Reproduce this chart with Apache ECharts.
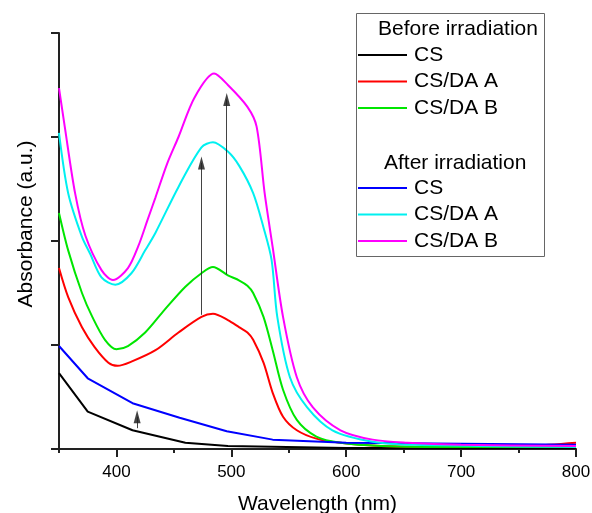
<!DOCTYPE html>
<html>
<head>
<meta charset="utf-8">
<script src="https://cdn.jsdelivr.net/npm/echarts@6/dist/echarts.min.js"></script>
<style>
  html, body { margin: 0; padding: 0; background: #fff; }
  #main { width: 592px; height: 513px; }
</style>
</head>
<body>
<div id="main"></div>
<script>
// UV-vis spectra: [wavelength (nm), absorbance (a.u.)]
var csBefore = [[350,0.73],[375,0.36],[414,0.18],[460,0.06],[497,0.03],[600,0.01],[800,0.01]];
var daABefore = [[350,1.74],[358,1.46],[370,1.17],[381,0.98],[393,0.83],[401,0.80],[413,0.84],[434,0.95],[454,1.12],[474,1.27],[484,1.30],[497,1.24],[507,1.17],[514,1.12],[519,1.05],[528,0.83],[536,0.54],[545,0.31],[557,0.18],[574,0.10],[595,0.06],[630,0.03],[700,0.02],[760,0.03],[800,0.06]];
var daBBefore = [[350,2.27],[358,1.91],[370,1.50],[379,1.27],[390,1.05],[400,0.96],[410,0.99],[425,1.12],[442,1.34],[460,1.56],[474,1.69],[484,1.75],[497,1.67],[507,1.62],[514,1.57],[519,1.50],[528,1.27],[536,0.95],[545,0.57],[557,0.28],[574,0.12],[595,0.06],[630,0.03],[700,0.02],[800,0.02]];
var csAfter = [[350,0.99],[375,0.68],[414,0.44],[455,0.30],[496,0.17],[536,0.09],[600,0.06],[700,0.05],[800,0.04]];
var daAAfter = [[350,3.04],[358,2.46],[370,2.04],[377,1.88],[387,1.65],[399,1.58],[413,1.69],[425,1.91],[434,2.08],[454,2.52],[474,2.90],[484,2.95],[497,2.86],[507,2.72],[519,2.46],[528,2.13],[535,1.82],[540,1.27],[551,0.69],[566,0.40],[588,0.18],[623,0.07],[660,0.04],[800,0.02]];
var daBAfter = [[350,3.47],[355,3.10],[364,2.46],[373,2.05],[387,1.72],[397,1.625],[410,1.74],[419,1.95],[427,2.20],[434,2.42],[444,2.74],[454,3.00],[468,3.38],[485,3.61],[497,3.50],[514,3.29],[522,3.10],[529,2.46],[536,1.94],[545,1.27],[557,0.69],[571,0.40],[595,0.18],[623,0.09],[653,0.06],[700,0.04],[800,0.03]];

// arrows: [wavelength, from, to]
var arrows = [[418, 0.20, 0.31], [474, 1.29, 2.75], [496, 1.68, 3.36]];

var xLabels = [400, 500, 600, 700, 800];
var xMinorTicks = [350, 450, 550, 650, 750];

var namesBefore = ['CS', 'CS/DA A', 'CS/DA B'];
// trailing space keeps legend names distinct from the "before" set
var namesAfter = ['CS ', 'CS/DA A ', 'CS/DA B '];

var FONT = '"Liberation Sans", Arial, sans-serif';

var chart = echarts.init(document.getElementById('main'));

function curve(name, data, color, smooth) {
  return {
    type: 'line',
    name: name,
    data: data,
    symbol: 'none',
    smooth: smooth ? 0.3 : false,
    lineStyle: { color: color, width: 2 },
    itemStyle: { color: color },
    animation: false,
    silent: true
  };
}

var arrowData = arrows.map(function (a) {
  return [
    { coord: [a[0], a[1]], symbol: 'none' },
    { coord: [a[0], a[2]], symbol: 'triangle', symbolSize: [7, 13] }
  ];
});

var seriesList = [
  curve(namesBefore[0], csBefore, '#000000', false),
  curve(namesBefore[1], daABefore, '#ff0000', true),
  curve(namesBefore[2], daBBefore, '#00e600', true),
  curve(namesAfter[0], csAfter, '#0000ff', false),
  curve(namesAfter[1], daAAfter, '#00f0f0', true),
  curve(namesAfter[2], daBAfter, '#ff00ff', true)
];
seriesList[5].markLine = {
  silent: true,
  animation: false,
  symbol: ['none', 'triangle'],
  label: { show: false },
  lineStyle: { color: '#222', width: 1, type: 'solid', opacity: 0.85 },
  emphasis: { disabled: true },
  data: arrowData
};

function legendBlock(names, top) {
  return {
    data: names,
    orient: 'vertical',
    left: 358,
    top: top,
    padding: 0,
    icon: 'rect',
    itemWidth: 49,
    itemHeight: 2,
    itemGap: 5.5,
    selectedMode: false,
    textStyle: { fontSize: 21, lineHeight: 21, color: '#000', fontFamily: FONT, padding: [0, 0, 0, 2] }
  };
}

var option = {
  backgroundColor: '#fff',
  animation: false,
  textStyle: { fontFamily: FONT },
  grid: { left: 59, right: 16, top: 33, bottom: 64, outerBoundsMode: 'none' },
  legend: [legendBlock(namesBefore, 44.5), legendBlock(namesAfter, 177.5)],
  xAxis: [
    {
      type: 'value',
      min: 350,
      max: 800,
      name: 'Wavelength (nm)',
      nameLocation: 'middle',
      nameGap: 45,
      nameTextStyle: { fontSize: 21, color: '#000', fontFamily: FONT },
      axisLine: { show: true, onZero: false, lineStyle: { color: '#222', width: 2 } },
      axisTick: { show: true, inside: false, length: 8, customValues: xLabels, lineStyle: { color: '#222', width: 2 } },
      axisLabel: { show: true, customValues: xLabels, fontSize: 17, color: '#000', margin: 15, fontFamily: FONT },
      splitLine: { show: false }
    },
    {
      type: 'value',
      min: 350,
      max: 800,
      position: 'bottom',
      axisLine: { show: false },
      axisTick: { show: true, inside: false, length: 4, customValues: xMinorTicks, lineStyle: { color: '#222', width: 2 } },
      axisLabel: { show: false },
      splitLine: { show: false }
    }
  ],
  yAxis: {
    type: 'value',
    min: 0,
    max: 4,
    interval: 1,
    name: 'Absorbance (a.u.)',
    nameLocation: 'middle',
    nameGap: 22,
    nameTextStyle: { fontSize: 21, color: '#000', fontFamily: FONT, padding: [0, 0, 0, 34] },
    axisLine: { show: true, lineStyle: { color: '#222', width: 2 } },
    axisTick: { show: true, inside: false, length: 8, lineStyle: { color: '#222', width: 2 } },
    axisLabel: { show: false },
    splitLine: { show: false }
  },
  graphic: [
    {
      type: 'rect',
      shape: { x: 356.5, y: 13.5, width: 188, height: 243 },
      style: { fill: 'none', stroke: '#666', lineWidth: 1 },
      silent: true
    },
    {
      type: 'text',
      x: 378,
      y: 29,
      style: { text: 'Before irradiation', fontSize: 21, fontFamily: FONT, fill: '#000', verticalAlign: 'middle' },
      silent: true
    },
    {
      type: 'text',
      x: 384,
      y: 163,
      style: { text: 'After irradiation', fontSize: 21, fontFamily: FONT, fill: '#000', verticalAlign: 'middle' },
      silent: true
    }
  ],
  series: seriesList
};

chart.setOption(option);
</script>
</body>
</html>
